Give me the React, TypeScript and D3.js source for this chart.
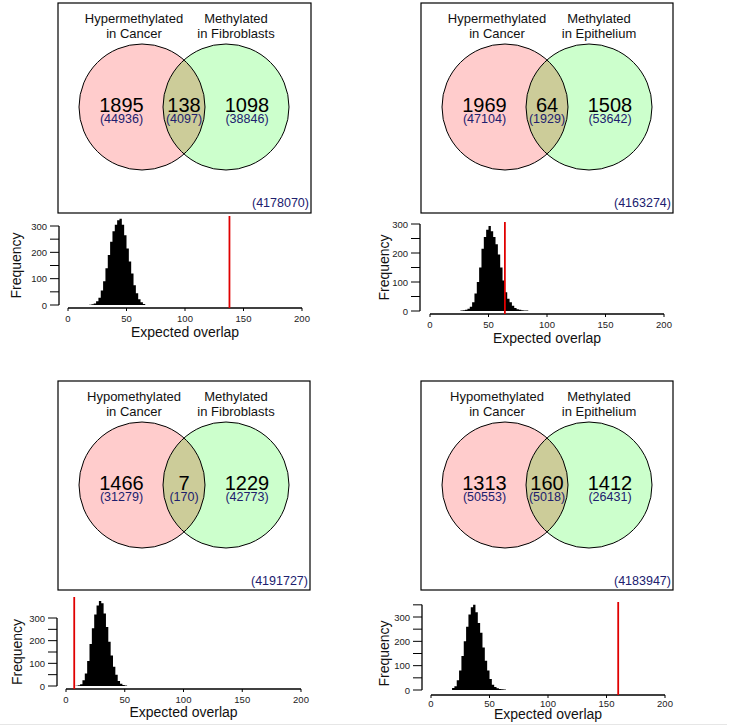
import React from 'react';
import * as d3 from 'd3';

// venn panel values
const leftLabels = [
  ['Hypermethylated', 'in Cancer'],
  ['Hypermethylated', 'in Cancer'],
  ['Hypomethylated', 'in Cancer'],
  ['Hypomethylated', 'in Cancer']
];
const rightLabels = [
  ['Methylated', 'in Fibroblasts'],
  ['Methylated', 'in Epithelium'],
  ['Methylated', 'in Fibroblasts'],
  ['Methylated', 'in Epithelium']
];
const onlyLeft = [1895, 1969, 1466, 1313];
const onlyLeftSub = [44936, 47104, 31279, 50553];
const overlap = [138, 64, 7, 160];
const overlapSub = [4097, 1929, 170, 5018];
const onlyRight = [1098, 1508, 1229, 1412];
const onlyRightSub = [38846, 53642, 42773, 26431];
const totals = [4178070, 4163274, 4191727, 4183947];

// permutation histograms (bins of 2)
const binWidth = 2;
const histStart = [18, 26, 8, 18];
const histCounts = [
  [1, 3, 6, 14, 28, 55, 90, 140, 190, 240, 280, 305, 322, 328, 305, 265, 215, 165, 120, 75, 45, 22, 10, 4],
  [2, 3, 4, 8, 15, 30, 60, 100, 150, 215, 255, 280, 293, 275, 255, 230, 195, 150, 105, 65, 42, 30, 18, 10, 6, 4, 3, 2, 2],
  [1, 3, 8, 25, 55, 110, 185, 255, 315, 355, 375, 365, 320, 260, 195, 135, 85, 50, 22, 10, 4, 2],
  [8, 15, 40, 80, 140, 200, 260, 310, 340, 350, 320, 275, 235, 175, 120, 80, 45, 22, 12, 7, 4, 3, 2]
];
const xTicks = [0, 50, 100, 150, 200];
const yTickLabels = [0, 100, 200, 300];
const yAxisMax = [300, 300, 300, 350];

const FONT = 'Liberation Sans, Arial, Helvetica, sans-serif';
const NAVY = '#20206e';

const boxes = [
  { x: 58, y: 3, w: 253, h: 210 },
  { x: 421, y: 3, w: 252, h: 210 },
  { x: 58, y: 381, w: 252, h: 209 },
  { x: 421, y: 381, w: 252, h: 209 }
];

const hists = [
  { x0: 68, x1: 302, y0: 305, y300: 226, axisX: 59, axisY: 308, redTop: 216, tickLabY: 321.5, xlabY: 337, freqX: 21 },
  { x0: 430, x1: 664, y0: 311, y300: 224, axisX: 420, axisY: 314, redTop: 222, tickLabY: 328, xlabY: 343, freqX: 389 },
  { x0: 66, x1: 301, y0: 686, y300: 618, axisX: 57, axisY: 689, redTop: 597, tickLabY: 703, xlabY: 716.5, freqX: 21.5 },
  { x0: 431, x1: 665, y0: 690, y300: 617, axisX: 422, axisY: 695, redTop: 602, tickLabY: 706.5, xlabY: 719, freqX: 389 }
];

const Venn = ({ i }: { i: number }) => {
  const b = boxes[i];
  const r = 63;
  const cx1 = b.x + 84;
  const cx2 = cx1 + 84;
  const cy = b.y + 104;
  const mid = (cx1 + cx2) / 2;
  const clipId = `clipL${i}`;
  return (
    <g fontFamily={FONT}>
      <rect x={b.x} y={b.y} width={b.w} height={b.h} fill="#fff" stroke="#000" strokeWidth={1.2} />
      <defs>
        <clipPath id={clipId}>
          <circle cx={cx1} cy={cy} r={r} />
        </clipPath>
      </defs>
      <circle cx={cx1} cy={cy} r={r} fill="#ffcccc" />
      <circle cx={cx2} cy={cy} r={r} fill="#ccffcc" />
      <circle cx={cx2} cy={cy} r={r} fill="#cccc99" clipPath={`url(#${clipId})`} />
      <circle cx={cx1} cy={cy} r={r} fill="none" stroke="#000" strokeWidth={1} />
      <circle cx={cx2} cy={cy} r={r} fill="none" stroke="#000" strokeWidth={1} />
      {leftLabels[i].map((t, k) => (
        <text key={'l' + k} x={cx1 - 8} y={b.y + 19.5 + k * 15} textAnchor="middle" fontSize={13} fill="#111">{t}</text>
      ))}
      {rightLabels[i].map((t, k) => (
        <text key={'r' + k} x={cx2 + 10} y={b.y + 19.5 + k * 15} textAnchor="middle" fontSize={13} fill="#111">{t}</text>
      ))}
      {[
        [cx1 - 20.5, onlyLeft[i], onlyLeftSub[i]],
        [mid, overlap[i], overlapSub[i]],
        [cx2 + 21, onlyRight[i], onlyRightSub[i]]
      ].map(([x, n, s], k) => (
        <g key={'n' + k}>
          <text x={x} y={b.y + 109} textAnchor="middle" fontSize={20} fill="#000">{n}</text>
          <text x={x} y={b.y + 120} textAnchor="middle" fontSize={12.5} fill={NAVY}>({s})</text>
        </g>
      ))}
      <text x={b.x + b.w - 2} y={b.y + 203.5} textAnchor="end" fontSize={12.5} fill={NAVY}>({totals[i]})</text>
    </g>
  );
};

const Hist = ({ i }: { i: number }) => {
  const h = hists[i];
  const x = d3.scaleLinear().domain([0, 200]).range([h.x0, h.x1]);
  const y = d3.scaleLinear().domain([0, 300]).range([h.y0, h.y300]);
  const counts = histCounts[i];
  const pts = counts.map((c, k) => ({ start: histStart[i] + k * binWidth, count: c }));
  pts.push({ start: histStart[i] + counts.length * binWidth, count: counts[counts.length - 1] });
  const area = d3
    .area<{ start: number; count: number }>()
    .x((d) => x(d.start))
    .y0(h.y0)
    .y1((d) => y(d.count))
    .curve(d3.curveStepAfter);
  const yTicks = d3.range(0, yAxisMax[i] + 1, 50);
  const xv = x(overlap[i]);
  return (
    <g fontFamily={FONT}>
      <path d={area(pts) || ''} fill="#000" />
      <line x1={h.x0} x2={h.x1} y1={h.axisY} y2={h.axisY} stroke="#000" strokeWidth={1.3} />
      {xTicks.map((t) => (
        <g key={t}>
          <line x1={x(t)} x2={x(t)} y1={h.axisY} y2={h.axisY + 3} stroke="#000" strokeWidth={1} />
          <text x={x(t)} y={h.tickLabY} textAnchor="middle" fontSize={9.5} fill="#222">{t}</text>
        </g>
      ))}
      <line x1={h.axisX} x2={h.axisX} y1={y(0)} y2={y(yAxisMax[i])} stroke="#000" strokeWidth={1.3} />
      {yTicks.map((t) => (
        <line key={t} x1={h.axisX - 9} x2={h.axisX} y1={y(t)} y2={y(t)} stroke="#000" strokeWidth={1} />
      ))}
      {yTickLabels.map((t) => (
        <text key={t} x={h.axisX - 12} y={y(t) + 3.5} textAnchor="end" fontSize={9.5} fill="#222">{t}</text>
      ))}
      <line x1={xv} x2={xv} y1={h.redTop} y2={h.axisY} stroke="#e00000" strokeWidth={1.8} />
      <text x={(h.x0 + h.x1) / 2} y={h.xlabY} textAnchor="middle" fontSize={14} fill="#111">Expected overlap</text>
      <text
        transform={`translate(${h.freqX},${(h.y0 + h.y300) / 2}) rotate(-90)`}
        textAnchor="middle"
        fontSize={14}
        fill="#111"
      >
        Frequency
      </text>
    </g>
  );
};

const App = () => {
  return (
    <div style={{ position: 'absolute', left: 0, top: 0 }}>
      <svg width={732} height={728} style={{ display: 'block', background: '#fff' }}>
        <rect width={732} height={728} fill="#fff" />
        {[0, 1, 2, 3].map((i) => (
          <g key={i}>
            <Venn i={i} />
            <Hist i={i} />
          </g>
        ))}
        <line x1={0} x2={727} y1={724.5} y2={724.5} stroke="#e6e6e6" strokeWidth={1} />
      </svg>
    </div>
  );
};

export default App;
